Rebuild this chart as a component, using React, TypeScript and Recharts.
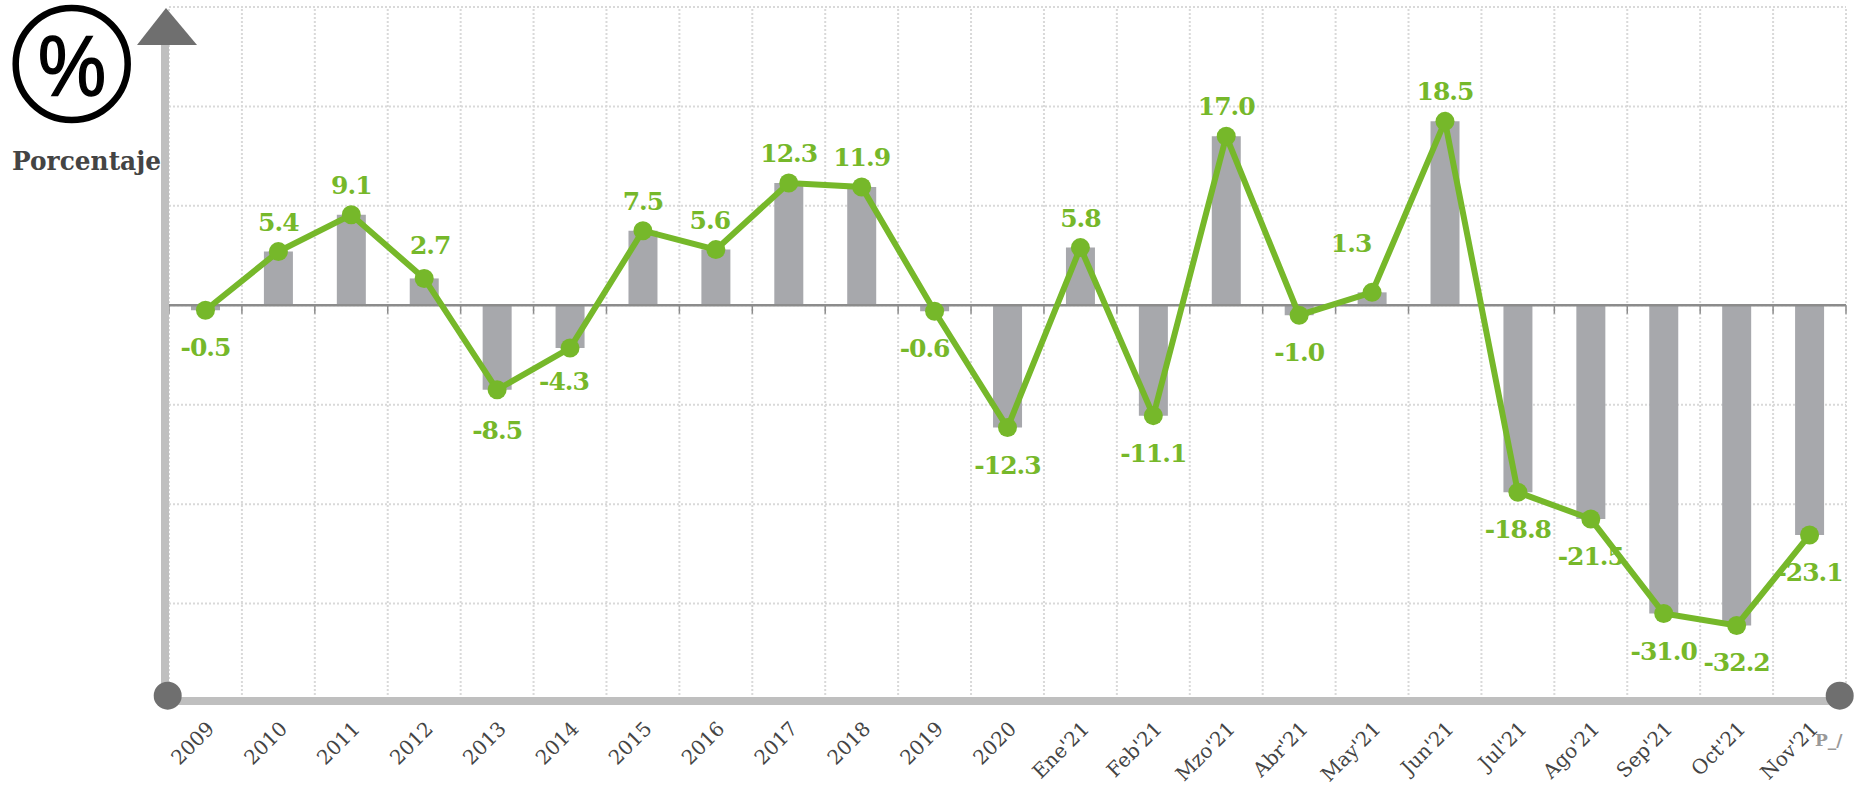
import { Bar, CartesianGrid, ComposedChart, Line, ReferenceLine, XAxis, YAxis } from "recharts";

const periods = [
  "2009", "2010", "2011", "2012", "2013", "2014", "2015", "2016", "2017", "2018", "2019", "2020",
  "Ene'21", "Feb'21", "Mzo'21", "Abr'21", "May'21", "Jun'21", "Jul'21", "Ago'21", "Sep'21", "Oct'21", "Nov'21",
];
const values = [
  -0.5, 5.4, 9.1, 2.7, -8.5, -4.3, 7.5, 5.6, 12.3, 11.9, -0.6, -12.3,
  5.8, -11.1, 17.0, -1.0, 1.3, 18.5, -18.8, -21.5, -31.0, -32.2, -23.1,
];
const valueTicks = [-40, -30, -20, -10, 0, 10, 20, 30];

const GREEN = "#76b82a";
const SERIF = "'DejaVu Serif', serif";

// labels the original moved by hand to keep them off the line
const labelNudges: Record<number, { dx?: number; dy?: number }> = {
  3: { dx: 6, dy: -3 },
  4: { dy: 3 },
  5: { dx: -6, dy: -4 },
  7: { dx: -6 },
  10: { dx: -10 },
  16: { dx: -21, dy: -19 },
};

const data = periods.map((period, i) => ({ period, value: values[i], slot: i + 0.5 }));
const bandEdges = [...periods.map((_, i) => i), periods.length];

function PointLabel({ x, y, value, index }: { x?: number; y?: number; value?: number; index?: number }) {
  const nudge = labelNudges[index ?? -1] ?? {};
  const dy = (value ?? 0) < 0 ? 46 : -21;
  return (
    <text
      x={(x ?? 0) + (nudge.dx ?? 0)}
      y={(y ?? 0) + dy + (nudge.dy ?? 0)}
      textAnchor="middle"
      fill={GREEN}
      fontFamily={SERIF}
      fontWeight={700}
      fontSize={25}
      letterSpacing={-1}
    >
      {(value ?? 0).toFixed(1)}
    </text>
  );
}

function Frame() {
  return (
    <svg width={1858} height={793} style={{ position: "absolute", left: 0, top: 0, pointerEvents: "none" }}>
      <rect x={161} y={44} width={8} height={652} fill="#bfbfbf" />
      <rect x={168} y={697} width={1672} height={8} fill="#bfbfbf" />
      <polygon points="166,8 137,45 197,45" fill="#6f6f6f" />
      <circle cx={167.7} cy={695.7} r={14} fill="#6f6f6f" />
      <circle cx={1839.7} cy={695.7} r={14} fill="#6f6f6f" />
      <circle cx={71.7} cy={64} r={56} fill="none" stroke="#000" strokeWidth={6.5} />
      <text
        x={38}
        y={96}
        fontFamily="'Liberation Sans', sans-serif"
        fontSize={86}
        fill="#000"
        stroke="#000"
        strokeWidth={1.5}
        textLength={68}
        lengthAdjust="spacingAndGlyphs"
      >
        %
      </text>
      <text x={12} y={170} fontFamily={SERIF} fontWeight={700} fontSize={26} fill="#444" textLength={149} lengthAdjust="spacingAndGlyphs">
        Porcentaje
      </text>
      <text x={1815} y={746} fontFamily={SERIF} fontWeight={700} fontSize={17} fill="#999">
        P_/
      </text>
    </svg>
  );
}

export default function App() {
  return (
    <div style={{ position: "absolute", left: 0, top: 0, width: 1858, height: 793, background: "#fff" }}>
      <ComposedChart width={1858} height={793} data={data} margin={{ top: 7, right: 12, bottom: 0, left: 169 }} barSize={29}>
        <XAxis
          dataKey="period"
          interval={0}
          height={90}
          axisLine={false}
          tickLine={false}
          angle={-45}
          textAnchor="end"
          tickMargin={11}
          tick={{ fontFamily: SERIF, fontSize: 20, fill: "#444" }}
        />
        <XAxis xAxisId="edge" dataKey="slot" type="number" scale="linear" domain={[0, periods.length]} allowDataOverflow ticks={bandEdges} hide />
        <YAxis hide domain={[-40, 30]} ticks={valueTicks} />
        <CartesianGrid vertical={false} stroke="#d9d9d9" strokeWidth={2} strokeDasharray="2 2" />
        {bandEdges.map((edge) => (
          <ReferenceLine key={"grid" + edge} xAxisId="edge" x={edge} stroke="#d9d9d9" strokeWidth={2} strokeDasharray="2 2" />
        ))}
        <ReferenceLine y={0} stroke="#8c8c8c" strokeWidth={2.5} />
        {bandEdges.map((edge) => (
          <ReferenceLine
            key={edge}
            xAxisId="edge"
            stroke="#8c8c8c"
            strokeWidth={1.5}
            segment={[
              { x: edge, y: 0 },
              { x: edge, y: -0.85 },
            ]}
          />
        ))}
        <Bar dataKey="value" fill="#a7a8ac" isAnimationActive={false} />
        <Line
          dataKey="value"
          stroke={GREEN}
          strokeWidth={6}
          dot={{ r: 9.5, fill: GREEN, stroke: GREEN, strokeWidth: 0 }}
          activeDot={false}
          label={(props: any) => <PointLabel key={props.index} x={props.x} y={props.y} value={props.value} index={props.index} />}
          isAnimationActive={false}
        />
      </ComposedChart>
      <Frame />
    </div>
  );
}
